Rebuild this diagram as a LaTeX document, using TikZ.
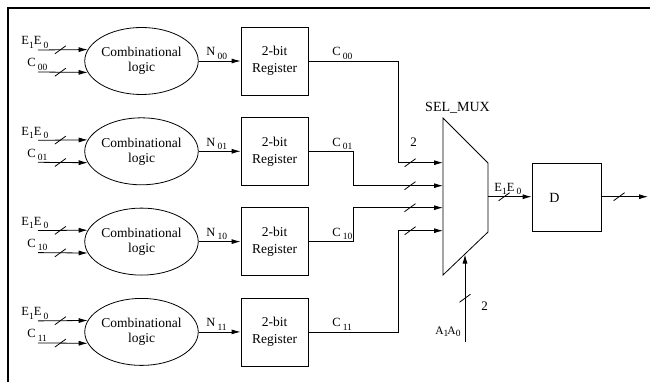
\documentclass[tikz,border=0pt]{standalone}
\usepackage{fontspec}
\setmainfont{Liberation Serif}
\usetikzlibrary{arrows.meta,shapes.geometric,calc}
\newcommand\lsub[1]{\raisebox{-0.55ex}{\fontsize{9.5}{9.5}\selectfont #1}}
\tikzset{
  busmark/.pic={\draw[-,line width=0.8pt] (-5.5pt,-4pt) -- (5.5pt,4pt);},
  comb/.style={ellipse, draw, minimum width=111pt, minimum height=67pt, inner sep=0pt, align=center, font=\fontsize{13.5}{15}\selectfont},
  reg/.style={rectangle, draw, minimum width=67pt, minimum height=68pt, inner sep=0pt, align=center, font=\fontsize{13.5}{17}\selectfont},
  lbl/.style={inner sep=0pt, anchor=base west, font=\fontsize{12.5}{12.5}\selectfont},
  big/.style={inner sep=0pt, font=\fontsize{14}{14}\selectfont},
  arr/.style={-{Latex[length=9pt,width=5pt]}},
  frame/.style={line width=1.2pt}
}
\begin{document}
\begin{tikzpicture}[x=1pt,y=-1pt,line width=0.8pt]
\useasboundingbox (0,0) rectangle (650,382);
\draw[frame] (8,382) -- (8,8) -- (650,8);

% rows
\foreach \i/\y/\n in {1/61/00, 2/151.3/01, 3/241.6/10, 4/331.9/11}{
  \node[comb] (cl\i) at (141.5,\y) {Combinational\\logic};
  \node[reg] (rg\i) at (274.5,\y) {2-bit\\Register};
  \coordinate (ea\i) at (38,\y-11);
  \coordinate (ca\i) at (38,\y+11);
  \draw[arr] (ea\i) -- pic[pos=0.45]{busmark} (cl\i.168);
  \draw[arr] (ca\i) -- pic[pos=0.45]{busmark} (cl\i.192);
  \node[lbl] (el\i) at (21,\y-16) {E\lsub{1}E\,\lsub{0}};
  \node[lbl] (cn\i) at (27,\y+6) {C\,\lsub{\n}};
  \draw[arr] (cl\i) -- (rg\i);
  \node[lbl] (nl\i) at (206,\y-5) {N\,\lsub{\n}};
  \node[lbl] (rl\i) at (332,\y-5) {C\,\lsub{\n}};
}

% multiplexer
\coordinate (m1) at (443,118);
\coordinate (m2) at (488,163);
\coordinate (m3) at (488,232);
\coordinate (m4) at (443,275);
\draw (m1) -- (m2) -- (m3) -- (m4) -- cycle;
\node[big] (sel) at (457.5,108) {SEL\_MUX};
\coordinate (mi1) at (443,162.7);
\coordinate (mi2) at (443,185.7);
\coordinate (mi3) at (443,207.7);
\coordinate (mi4) at (443,230.7);
\coordinate (mo) at (488,196.7);
\coordinate (ms) at (465,254.5);

\coordinate (v1) at (398,162.7);
\coordinate (v2) at (353,185.7);
\coordinate (v3) at (353,207.7);
\coordinate (v4) at (398,230.7);
\draw[arr] (rg1.east) -| (v1) -- pic[pos=0.27]{busmark} (mi1);
\draw[arr] (rg2.east) -| (v2) -- pic[pos=0.633]{busmark} (mi2);
\draw[arr] (rg3.east) -| (v3) -- pic[pos=0.633]{busmark} (mi3);
\draw[arr] (rg4.east) -| (v4) -- pic[pos=0.27]{busmark} (mi4);
\node[lbl, font=\fontsize{13}{13}\selectfont] (two1) at (410,147) {2};

% D register
\node[rectangle, draw, minimum width=69pt, minimum height=68pt, inner sep=0pt] (dd) at (566.5,197) {};
\node[big] (dl) at (554.5,197.5) {D};
\draw[arr] (mo) -- pic[pos=0.37]{busmark} (dd.west |- mo);
\node[lbl] (oel) at (494,191) {E\lsub{1}E\,\lsub{0}};
\coordinate (out) at (648,196.7);
\draw[arr] (dd.east |- out) -- pic[pos=0.38]{busmark} (out);

% select
\coordinate (sb) at (465,342);
\draw[arr] (sb) -- pic[pos=0.5]{busmark} (ms);
\node[lbl, font=\fontsize{13}{13}\selectfont] (two2) at (481,310) {2};
\node[lbl, font=\fontsize{11.5}{11.5}\selectfont] (asl) at (435,334) {A\lsub{1}\hspace{-1pt}A\lsub{0}};
\end{tikzpicture}
\end{document}
